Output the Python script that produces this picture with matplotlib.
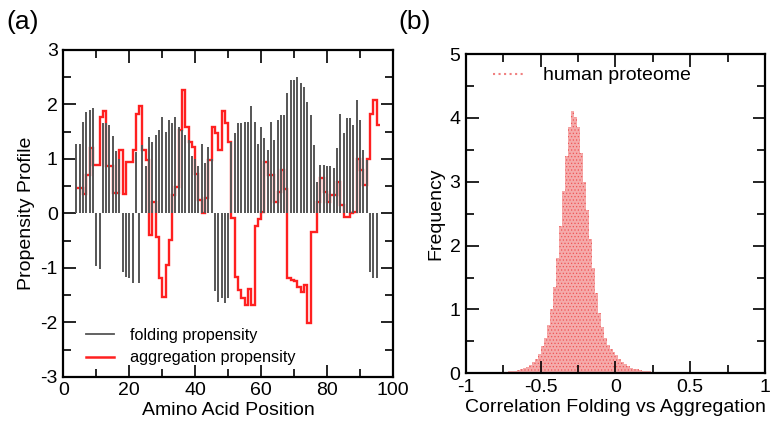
import numpy as np
import matplotlib
matplotlib.use("Agg")
import matplotlib.pyplot as plt
from matplotlib.lines import Line2D
from matplotlib.ticker import MultipleLocator

plt.rcParams['font.family'] = ['Liberation Sans', 'DejaVu Sans']
plt.rcParams['axes.unicode_minus'] = False
plt.rcParams['hatch.linewidth'] = 0.5

# ---------------- data: panel (a) ----------------
first_position = 4
folding = [1.28, 1.28, 1.68, 1.85, 1.90, 1.93, -0.97, -1.02, 1.65, 1.65,
           1.62, 1.42, 1.15, 1.00, -1.07, -1.16, -1.18, -1.28, 1.13, -1.28,
           1.25, 0.86, 1.40, 1.31, 1.44, 1.53, 1.77, 1.50, 1.71, 1.65,
           1.77, 1.59, 1.53, 1.44, 1.35, 1.05, 1.00, 0.86, 1.28, 0.92,
           1.22, 1.00, -1.42, -1.62, -1.56, -1.65, -1.56, 1.30, 1.47, 1.65,
           1.65, 1.68, 1.68, 1.96, 1.68, 1.28, 1.59, 1.38, 1.16, 1.68,
           1.35, 1.71, 1.80, 1.80, 2.20, 2.45, 2.45, 2.51, 2.39, 2.32,
           2.05, 1.80, 1.25, 0.58, 0.89, 0.89, 0.86, 0.86, 0.83, 1.19,
           1.83, 1.47, 1.74, 1.74, 1.62, 2.08, 1.71, 1.16, 0.98, -1.07,
           -1.19, -1.19]
aggregation = [0.46, 0.46, 0.36, 0.70, 1.19, 0.89, 0.89, 1.77, 1.87, 0.86,
               0.86, 0.37, 0.37, 1.16, 0.35, 0.95, 0.95, 1.16, 1.83, 1.96,
               1.16, 0.98, -0.40, 0.21, -0.43, -1.19, -1.53, -0.95, -0.49, 0.34,
               0.49, 1.53, 2.26, 1.59, 1.31, 1.22, 0.73, 0.24, 0.00, 0.28,
               0.98, 1.59, 1.47, 1.16, 1.87, 1.65, 1.31, -0.09, -1.16, -1.40,
               -1.56, -1.68, -1.38, -1.68, -0.24, -0.10, 0.03, 0.95, 0.70, 0.70,
               0.20, 0.40, 0.80, 0.45, -1.19, -1.22, -1.25, -1.35, -1.44, -1.31,
               -2.02, -0.34, -0.34, 0.20, 0.64, 0.40, 0.21, 0.34, 0.34, 0.58,
               0.15, -0.06, -0.06, 0.00, 0.03, 1.00, 0.80, 0.52, 1.00, 1.83,
               2.08, 1.62]
a_xticks = [0, 20, 40, 60, 80, 100]
a_xticklabels = ['0', '20', '40', '60', '80', '100']
a_yticks = [-3, -2, -1, 0, 1, 2, 3]
a_yticklabels = ['-3', '-2', '-1', '0', '1', '2', '3']

# ---------------- data: panel (b) ----------------
hist_first_edge = -0.80
hist_bin_width = 0.02
hist_heights = [0.01, 0.01, 0.02, 0.02, 0.03, 0.03, 0.04, 0.05, 0.06, 0.08,
                0.10, 0.13, 0.17, 0.23, 0.31, 0.42, 0.56, 0.75, 1.00, 1.35,
                1.80, 2.30, 2.85, 3.40, 3.85, 4.10, 4.02, 3.85, 3.45, 3.00,
                2.55, 2.10, 1.65, 1.25, 0.95, 0.72, 0.56, 0.45, 0.38, 0.33,
                0.28, 0.23, 0.18, 0.14, 0.11, 0.09, 0.07, 0.06, 0.05, 0.04,
                0.03, 0.03, 0.02, 0.02, 0.01, 0.01, 0.01, 0.01]
b_xticks = [-1, -0.5, 0, 0.5, 1]
b_xticklabels = ['-1', '-0.5', '0', '0.5', '1']
b_yticks = [0, 1, 2, 3, 4, 5]
b_yticklabels = ['0', '1', '2', '3', '4', '5']

# ---------------- figure ----------------
fig = plt.figure(figsize=(7.7, 4.25), dpi=100)
axA = fig.add_axes([0.0822, 0.1134, 0.4282, 0.7694])
axB = fig.add_axes([0.6052, 0.1216, 0.3883, 0.7513])

def style(ax):
    for s in ax.spines.values():
        s.set_linewidth(1.6)
    ax.tick_params(which='both', direction='in', top=True, right=True,
                   labelsize=14, width=1.2, pad=4)
    ax.tick_params(which='major', length=9)
    ax.tick_params(which='minor', length=6)

# panel (a)
pos = np.arange(first_position, first_position + len(folding))
axA.vlines(pos, 0, folding, color='#555555', linewidth=1.4)
edges = np.arange(first_position, first_position + len(aggregation) + 1)
axA.stairs(aggregation, edges, baseline=None, color='#ff2020', linewidth=1.7)
axA.set_xlim(0, 100)
axA.set_ylim(-3, 3)
axA.set_xticks(a_xticks)
axA.set_xticklabels(a_xticklabels)
axA.set_yticks(a_yticks)
axA.set_yticklabels(a_yticklabels)
axA.xaxis.set_minor_locator(MultipleLocator(10))
axA.yaxis.set_minor_locator(MultipleLocator(0.5))
style(axA)
axA.set_xlabel('Amino Acid Position', fontsize=14, labelpad=2)
axA.set_ylabel('Propensity Profile', fontsize=14, labelpad=4)
handles = [Line2D([], [], color='#555555', lw=1.3),
           Line2D([], [], color='#ff2020', lw=1.8)]
axA.legend(handles, ['folding propensity', 'aggregation propensity'],
           loc='lower left', bbox_to_anchor=(0.07, 0.035), frameon=False,
           fontsize=11.7, handlelength=1.7, handletextpad=1.0,
           labelspacing=0.45, borderpad=0, borderaxespad=0)

# panel (b)
centers = hist_first_edge + hist_bin_width * (np.arange(len(hist_heights)) + 0.5)
axB.bar(centers, hist_heights, width=hist_bin_width, color='#f5aaaa',
        edgecolor='#ee5555', linewidth=0, hatch='.....')
axB.set_xlim(-1, 1)
axB.set_ylim(0, 5)
axB.set_xticks(b_xticks)
axB.set_xticklabels(b_xticklabels)
axB.set_yticks(b_yticks)
axB.set_yticklabels(b_yticklabels)
axB.xaxis.set_minor_locator(MultipleLocator(0.25))
axB.yaxis.set_minor_locator(MultipleLocator(0.5))
style(axB)
axB.set_xlabel('Correlation Folding vs Aggregation', fontsize=14, labelpad=2)
axB.set_ylabel('Frequency', fontsize=14, labelpad=4)
hb = [Line2D([], [], color='#f08080', lw=1.5, linestyle=':')]
axB.legend(hb, ['human proteome'], loc='upper left',
           bbox_to_anchor=(0.09, 0.96), frameon=False, fontsize=14,
           handlelength=1.6, handletextpad=1.0, borderpad=0, borderaxespad=0)

fig.text(0.008, 0.948, '(a)', fontsize=19, ha='left', va='center')
fig.text(0.518, 0.948, '(b)', fontsize=19, ha='left', va='center')

fig.savefig('out.png', dpi=100)
